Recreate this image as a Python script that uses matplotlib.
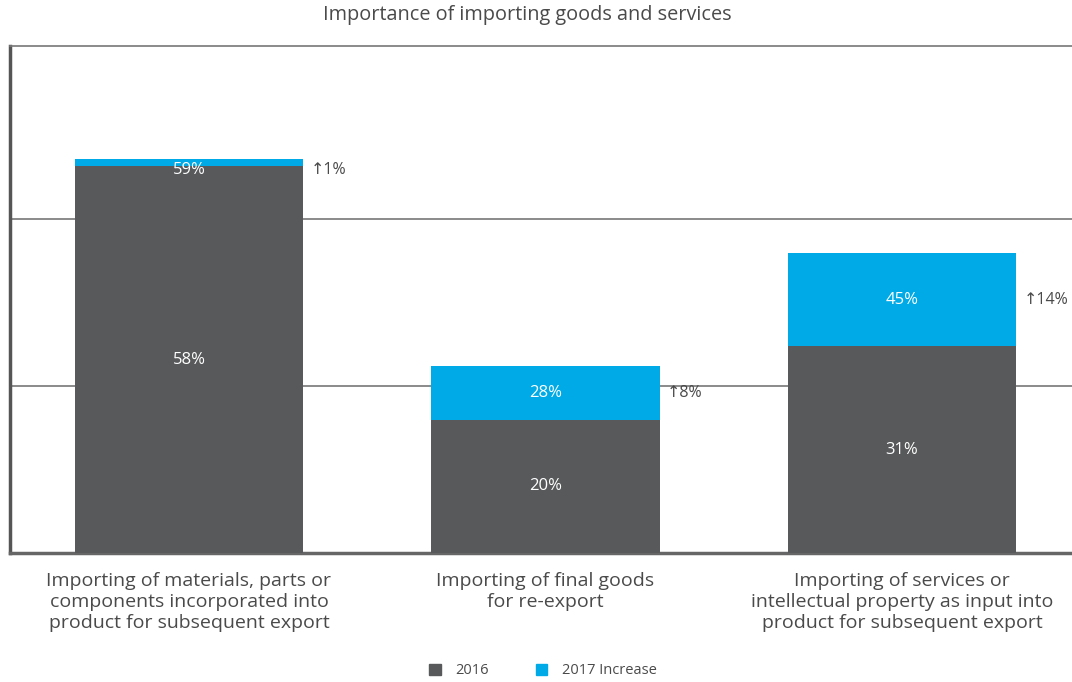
import matplotlib.pyplot as plt
from matplotlib.patches import Patch

# Survey values (% of respondents)
categories = [
    "Importing of materials, parts or\ncomponents incorporated into\nproduct for subsequent export",
    "Importing of final goods\nfor re-export",
    "Importing of services or\nintellectual property as input into\nproduct for subsequent export",
]
base_2016 = [58, 20, 31]
increase_2017 = [1, 8, 14]

dark = '#58595b'
blue = '#00aae7'
text_col = '#4a4a4a'

plt.rcParams['font.family'] = ['Open Sans', 'DejaVu Sans']

fig = plt.figure(figsize=(10.72, 6.82), dpi=100)
ax = fig.add_axes([10 / 1072, 1 - 553 / 682, 1062 / 1072, (553 - 46) / 682])

x = list(range(len(categories)))
width = 0.642
ax.bar(x, base_2016, width=width, color=dark, zorder=3)
ax.bar(x, increase_2017, width=width, bottom=base_2016, color=blue, zorder=3)

ax.set_xlim(-0.502, 2.477)
ax.set_ylim(0, 76)

# horizontal grid
for g in [25, 50]:
    ax.axhline(g, color='#777777', lw=1.2, zorder=1)

for i, (b, inc) in enumerate(zip(base_2016, increase_2017)):
    total = b + inc
    ax.text(i, b / 2, f"{b}%", color='white', ha='center', va='center', fontsize=12, zorder=4)
    ty = min(b + inc / 2, total - 1.6)
    ax.text(i, ty, f"{total}%", color='white', ha='center', va='center', fontsize=12, zorder=4)
    ax.text(i + width / 2 + 0.02, ty, f"\u2191{inc}%", color=text_col, ha='left', va='center',
            fontsize=11.5)

ax.spines['right'].set_visible(False)
ax.spines['top'].set_color('#777777')
ax.spines['top'].set_linewidth(1.2)
ax.spines['left'].set_color('#555555')
ax.spines['left'].set_linewidth(2.5)
ax.spines['bottom'].set_color('#666666')
ax.spines['bottom'].set_linewidth(2.5)
ax.set_yticks([])
ax.set_xticks(x)
ax.set_xticklabels(categories, fontsize=14, color=text_col, linespacing=1.2)
ax.tick_params(axis='x', length=0, pad=14)

fig.text(527 / 1072, 1 - 15 / 682, "Importance of importing goods and services",
         ha='center', va='center', fontsize=14.3, color=text_col)

handles = [Patch(color=dark, label='2016'), Patch(color=blue, label='2017 Increase')]
fig.legend(handles=handles, loc='center', bbox_to_anchor=(543 / 1072, 1 - 671 / 682),
           ncol=2, frameon=False, fontsize=10.5, handlelength=0.8, handleheight=0.8,
           columnspacing=3.2, handletextpad=1.0, labelcolor=text_col)

fig.savefig('out.png', dpi=100)
